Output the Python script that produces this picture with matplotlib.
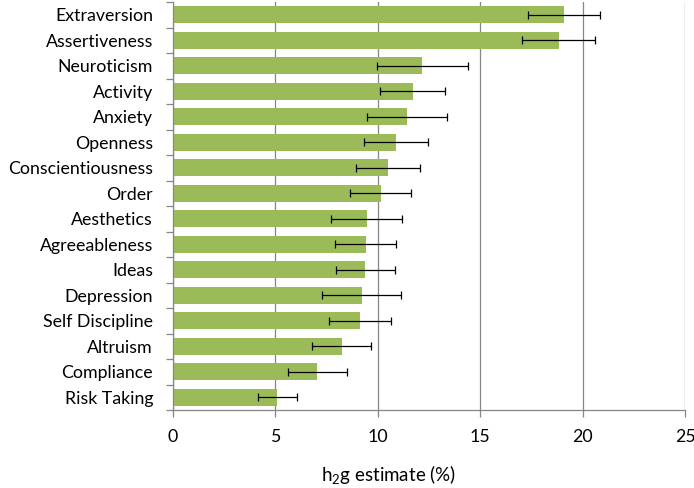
import matplotlib
matplotlib.use('Agg')
import matplotlib.pyplot as plt
import numpy as np

# trait names, top to bottom as shown
traits = ['Extraversion', 'Assertiveness', 'Neuroticism', 'Activity', 'Anxiety',
          'Openness', 'Conscientiousness', 'Order', 'Aesthetics', 'Agreeableness',
          'Ideas', 'Depression', 'Self Discipline', 'Altruism', 'Compliance',
          'Risk Taking']
# h2g estimate (%) and its standard error
h2g = [19.1, 18.85, 12.18, 11.72, 11.44, 10.9, 10.5, 10.15, 9.47, 9.42,
       9.41, 9.22, 9.16, 8.25, 7.06, 5.11]
h2g_err = [1.75, 1.78, 2.22, 1.58, 1.96, 1.57, 1.56, 1.49, 1.72, 1.49,
           1.42, 1.91, 1.51, 1.45, 1.45, 0.96]

plt.rcParams['font.family'] = ['Lato', 'DejaVu Sans']
plt.rcParams['mathtext.fontset'] = 'custom'
plt.rcParams['mathtext.rm'] = 'Lato'
plt.rcParams['mathtext.it'] = 'Lato:italic'

fig = plt.figure(figsize=(6.94, 4.88), dpi=100)
ax = fig.add_axes([172.5 / 694, 1 - 410 / 488, (685 - 172.5) / 694, 408 / 488])

grid_col = '#868686'
y = np.arange(len(traits))
ax.barh(y, h2g, height=0.66, color='#9BBB59', zorder=2)
ax.errorbar(h2g, y, xerr=h2g_err, fmt='none', ecolor='black', elinewidth=0.9,
            capsize=3.2, capthick=0.9, zorder=3)

ax.set_xlim(0, 25)
ax.set_ylim(len(traits) - 0.5, -0.5)
ax.set_xticks(np.arange(0, 26, 5))
ax.xaxis.grid(True, color=grid_col, linewidth=0.9, zorder=0)
ax.set_axisbelow(True)

ax.set_yticks(y)
ax.set_yticklabels(traits, fontsize=12.8)
ax.set_yticks(np.arange(-0.5, len(traits)), minor=True)
ax.tick_params(axis='y', which='major', length=0, pad=14)
ax.tick_params(axis='y', which='minor', length=5, color=grid_col, width=0.9)
ax.tick_params(axis='x', length=5, color=grid_col, width=0.9, labelsize=12.8, pad=9)

for side in ['top', 'right']:
    ax.spines[side].set_visible(False)
for side in ['left', 'bottom']:
    ax.spines[side].set_color(grid_col)
    ax.spines[side].set_linewidth(0.9)

fig.text(388 / 694, 1 - 475 / 488, r'h$_2$g estimate (%)', fontsize=13.5,
         ha='center', va='center')

plt.savefig('out.png', dpi=100)
